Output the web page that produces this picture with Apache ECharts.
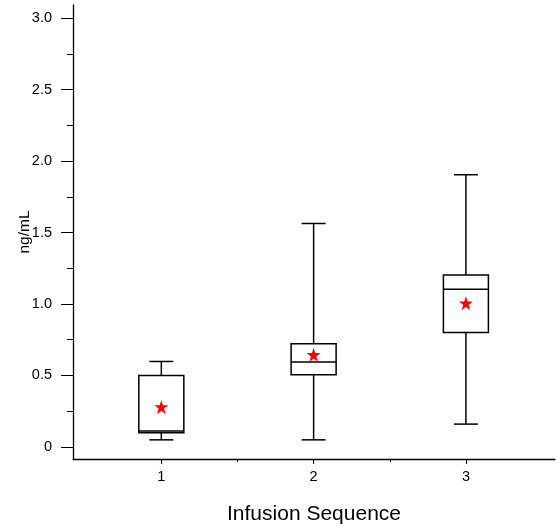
<!DOCTYPE html>
<html>
<head>
<meta charset="utf-8">
<script src="https://cdn.jsdelivr.net/npm/echarts@6/dist/echarts.min.js"></script>
<style>html,body{margin:0;padding:0;background:#fff;}#c{width:556px;height:527px;}</style>
</head>
<body>
<div id="c"></div>
<script>
const categories = [1, 2, 3];
const whiskerLow = [0.05, 0.05, 0.16];
const q1 = [0.10, 0.505, 0.80];
const median = [0.112, 0.594, 1.104];
const q3 = [0.50, 0.722, 1.202];
const whiskerHigh = [0.598, 1.563, 1.904];
const means = [0.28, 0.645, 1.006];
const yMajorTicks = [0, 0.5, 1.0, 1.5, 2.0, 2.5, 3.0];
const yMinorTicks = [0.25, 0.75, 1.25, 1.75, 2.25, 2.75];
const xMajorTicks = [1, 2, 3];
const xMinorTicks = [1.5, 2.5];

const boxData = categories.map((c, i) => [c, whiskerLow[i], q1[i], median[i], q3[i], whiskerHigh[i]]);
const meanData = categories.map((c, i) => [c, means[i]]);

const FONT = 'Liberation Sans, Arial, sans-serif';
const chart = echarts.init(document.getElementById('c'), null, {renderer: 'canvas'});
const xMin = 0.42, xMax = 3.585, yMin = -0.084, yMax = 3.091;
const star = 'path://M50,0 L61.2,34.5 L97.6,34.5 L68.2,55.9 L79.4,90.5 L50,69.1 L20.6,90.5 L31.8,55.9 L2.4,34.5 L38.8,34.5 Z';

chart.setOption({
  animation: false,
  grid: {left: 73, right: 1, top: 5, bottom: 68, containLabel: false, outerBoundsMode: 'none'},
  xAxis: [{
    type: 'value', min: xMin, max: xMax,
    name: 'Infusion Sequence', nameLocation: 'middle', nameGap: 45, nameMoveOverlap: false,
    nameTextStyle: {fontFamily: FONT, fontSize: 21, color: '#000'},
    axisLine: {show: true, onZero: false, lineStyle: {color: '#000', width: 1.3}},
    axisTick: {show: true, length: 5, customValues: xMajorTicks, lineStyle: {color: '#000'}},
    axisLabel: {show: true, margin: 10, customValues: xMajorTicks, fontFamily: FONT, fontSize: 14.5, color: '#000',
      formatter: v => String(v)},
    splitLine: {show: false}
  }, {
    type: 'value', min: xMin, max: xMax, position: 'bottom',
    axisLine: {show: false, onZero: false},
    axisTick: {show: true, length: 3, customValues: xMinorTicks, lineStyle: {color: '#000'}},
    axisLabel: {show: false}, splitLine: {show: false}
  }],
  yAxis: [{
    type: 'value', min: yMin, max: yMax,
    name: 'ng/mL', nameLocation: 'middle', nameGap: 40, nameRotate: 90, nameMoveOverlap: false,
    nameTextStyle: {fontFamily: FONT, fontSize: 15.5, color: '#000'},
    axisLine: {show: true, onZero: false, lineStyle: {color: '#000', width: 1.3}},
    axisTick: {show: true, length: 12, customValues: yMajorTicks, lineStyle: {color: '#000'}},
    axisLabel: {show: true, margin: 21, customValues: yMajorTicks, fontFamily: FONT, fontSize: 14.5, color: '#000',
      formatter: v => (v === 0 ? '0' : v.toFixed(1))},
    splitLine: {show: false}
  }, {
    type: 'value', min: yMin, max: yMax, position: 'left',
    axisLine: {show: false, onZero: false},
    axisTick: {show: true, length: 6, customValues: yMinorTicks, lineStyle: {color: '#000'}},
    axisLabel: {show: false}, splitLine: {show: false}
  }],
  series: [{
    type: 'custom',
    xAxisIndex: 0, yAxisIndex: 0,
    data: boxData,
    renderItem: function (params, api) {
      const x = api.value(0);
      const pLow = api.coord([x, api.value(1)]);
      const pQ1 = api.coord([x, api.value(2)]);
      const pMed = api.coord([x, api.value(3)]);
      const pQ3 = api.coord([x, api.value(4)]);
      const pHigh = api.coord([x, api.value(5)]);
      const cx = pLow[0];
      const hw = 22.5, cw = 12;
      const st = {stroke: '#000', lineWidth: 1.5, fill: null};
      return {
        type: 'group',
        children: [
          {type: 'line', shape: {x1: cx, y1: pHigh[1], x2: cx, y2: pQ3[1]}, style: st},
          {type: 'line', shape: {x1: cx, y1: pQ1[1], x2: cx, y2: pLow[1]}, style: st},
          {type: 'line', shape: {x1: cx - cw, y1: pHigh[1], x2: cx + cw, y2: pHigh[1]}, style: st},
          {type: 'line', shape: {x1: cx - cw, y1: pLow[1], x2: cx + cw, y2: pLow[1]}, style: st},
          {type: 'rect', shape: {x: cx - hw, y: pQ3[1], width: 2 * hw, height: pQ1[1] - pQ3[1]}, style: {stroke: '#000', lineWidth: 1.5, fill: '#fff'}},
          {type: 'line', shape: {x1: cx - hw, y1: pMed[1], x2: cx + hw, y2: pMed[1]}, style: st}
        ]
      };
    },
    z: 2
  }, {
    type: 'scatter',
    xAxisIndex: 0, yAxisIndex: 0,
    data: meanData,
    symbol: star, symbolSize: 14,
    itemStyle: {color: '#ff0000', opacity: 1},
    z: 3
  }]
});
</script>
</body>
</html>
